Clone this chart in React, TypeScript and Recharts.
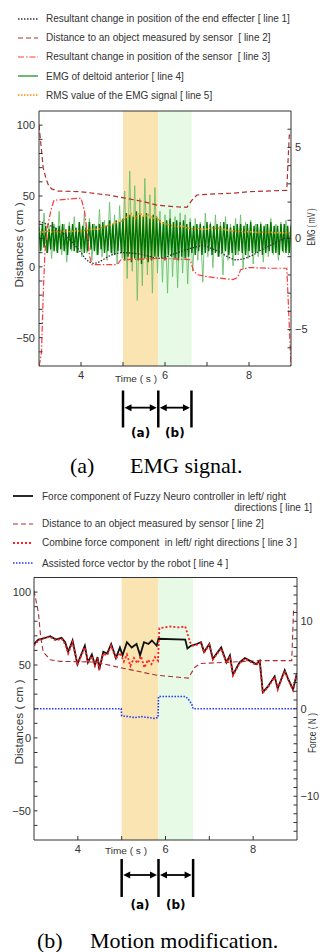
import React from "react";
import {
    ComposedChart,
    Line,
    XAxis,
    YAxis,
    CartesianGrid,
    ReferenceArea,
    ReferenceLine,
    ReferenceDot,
    Legend,
    Label
} from "recharts";

const sans = '"Liberation Sans", Arial, sans-serif';
const serif = '"Liberation Serif", "Times New Roman", serif';

// shared time axis (s)
const timeTicks = [4, 5, 6, 7, 8];
const timeLabelled = [4, 6, 8];
const phaseBounds = [5.0, 5.84, 6.63];
const phaseNames = ["(a)", "(b)"];

const cmTicks = [-60, -50, -40, -30, -20, -10, 0, 10, 20, 30, 40, 50, 60, 70, 80, 90, 100];
const cmLabelled = [-50, 0, 50, 100];
const emgTicks = [-6, -5, -4, -3, -2, -1, 0, 1, 2, 3, 4, 5, 6];
const emgLabelled = [-5, 0, 5];
const forceTicks = [-14, -13, -12, -11, -10, -9, -8, -7, -6, -5, -4, -3, -2, -1, 0, 1, 2, 3, 4, 5, 6, 7, 8, 9, 10, 11, 12, 13, 14];
const forceLabelled = [-10, 0, 10];

// ---------- (a) EMG signal ----------
const emgLegendLabels = [
    "Resultant change in position of the end effecter [ line 1]",
    "Distance to an object measured by sensor  [ line 2]",
    "Resultant change in position of the sensor  [ line 3]",
    "EMG of deltoid anterior [ line 4]",
    "RMS value of the EMG signal [ line 5]"
];

// line 1 (cm)
const effTime = [3.0, 3.2, 3.4, 3.6, 3.8, 4.0, 4.1, 4.2, 4.3, 4.4, 4.55, 4.7, 4.85, 5.0, 5.4, 5.88, 6.2, 6.5, 6.67, 6.9, 7.1, 7.3, 7.5, 7.7, 7.9, 8.1, 8.3, 8.5, 8.7, 8.9, 9.0];
const effCm = [32, 30, 27, 23, 17, 10, 6, 3.5, 2.5, 3, 5.5, 8, 9.5, 10, 9, 6, 9, 12, 13.5, 15, 13, 10.5, 7, 5, 6, 8.5, 12, 15, 18, 20.5, 20];

// line 2 (cm)
const distTime = [3.0, 3.05, 3.1, 3.16, 3.22, 3.3, 3.46, 4.0, 4.64, 5.05, 5.5, 5.8, 6.2, 6.52, 6.64, 6.76, 7.2, 7.62, 8.0, 8.4, 8.9, 8.93, 8.96, 9.0];
const distCm = [100, 85, 70, 63, 58, 55, 53.5, 53, 50.7, 48.5, 46, 43.6, 42.5, 42, 47, 50.7, 51.5, 52, 53, 53.5, 54, 75, 93, 93];

// line 3 (cm)
const sensorTime = [3.0, 3.03, 3.06, 3.1, 3.14, 3.2, 3.3, 3.36, 4.0, 4.08, 4.16, 4.2, 4.26, 4.86, 4.95, 5.5, 5.88, 6.3, 6.6, 6.67, 6.76, 7.0, 7.3, 7.62, 7.73, 7.8, 8.0, 8.5, 8.9, 8.95, 9.0];
const sensorCm = [-70, -66, -60, -20, 10, 28, 42, 47, 48.5, 40, 22, 8, 1.5, 1.5, 5, 5.5, 6, 5.5, 5, -2, -5.5, -7, -8, -9, -7.5, -2, -0.5, -1, -1, -35, -70];

// line 4 (mV), sampled every 0.04 s from 3 s
const emgCoreMv = [
    0.6, -0.7, 0.8, -0.5, 0.7, -0.8, 0.5, -0.6, 0.9, -0.7,
    0.6, -0.8, 0.7, -0.6, 0.8, -0.7, 0.5, -0.9, 0.7, -0.6,
    0.8, -0.7, 0.6, -0.8, 0.9, -0.6, 0.7, -0.8, 0.6, -0.7,
    0.9, -0.6, 0.8, -0.7, 0.7, -0.9, 0.8, -0.6, 0.9, -0.8,
    0.7, -0.7, 1.0, -0.8, 0.8, -0.9, 1.0, -0.7, 0.9, -0.8,
    1.1, -1.2, 1.4, -1.0, 1.3, -1.3, 1.2, -1.1, 1.5, -1.2,
    1.3, -1.4, 1.2, -1.1, 1.4, -1.3, 1.1, -1.2, 1.3, -1.0,
    1.2,
    -1.0, 1.0, -1.1, 0.9, -1.2, 1.0, -0.9, 1.1, -1.0, 0.9,
    -1.1, 1.0, -1.2, 0.9, -1.0, 1.0, -1.1, 0.8, -1.0, 0.9,
    -0.8, 0.7, -0.9, 0.8, -0.7, 0.8, -0.9, 0.7, -0.8, 0.9,
    -0.7, 0.8, -0.9, 0.7, -0.8, 0.8, -1.0, 0.7, -0.8, 0.9,
    -0.7, 0.8, -0.9, 0.6, -0.8, 0.7, -0.9, 0.8, -0.7, 0.8,
    -0.8, 0.7, -0.9, 0.8, -0.7, 0.9, -0.8, 0.7, -0.8, 0.8,
    -0.7, 0.8, -0.9, 0.7, -0.8, 0.8, -0.7, 0.9, -0.8, 0.7,
    -0.8, 0.7, -0.9, 0.8, -0.7, 0.8, -0.8, 0.7, -0.8, 0.7
];
// line 4 spikes (mV), sampled every 0.06 s from 3 s
const emgSpikeMv = [
    0.9, -0.6, 1.4, -0.8, 0.7, -1.1, 0.8, -0.7, 1.5, -0.9,
    0.8, -1.3, 0.9, -0.7, 1.2, -0.8, 0.9, -1.0, 1.4, -0.8,
    1.1, -1.2, 0.8, -0.9, 1.6, -1.0, 1.0, -1.2, 2.0, -0.9,
    1.3, -1.4, 1.8, -1.1,
    2.6, -2.2, 3.7, -1.8, 2.9, -3.4, 2.2, -2.6, 3.3, -2.0, 2.4, -3.0, 2.8, -1.9,
    1.5, -2.4, 1.3, -3.0, 1.6, -2.1, 1.2, -2.7, 1.4, -1.9, 1.3, -2.5, 1.1,
    -1.8, 1.1, -1.2, 0.9, -2.4, 1.4, -1.0, 0.9, -1.6, 1.3,
    -1.0, 0.9, -2.0, 1.2, -1.2, 0.8, -1.5, 1.1, -0.9, 1.3,
    -1.7, 0.9, -1.1, 1.0, -1.4, 0.8, -1.0, 0.9, -1.3, 0.8,
    -1.0, 1.1, -0.9, 0.8, -1.2, 0.9, -0.8, 1.0, -0.9, 0.8
];
// line 5 (mV), every 0.1 s from 3 s
const rmsMv = [
    0.38, 0.35, 0.4, 0.36, 0.38, 0.35, 0.4, 0.37, 0.4, 0.42,
    0.4, 0.45, 0.48, 0.52, 0.5, 0.6, 0.7, 0.75, 0.85, 0.9,
    1.0, 1.2, 1.35, 1.1, 1.4, 1.2, 1.3, 1.1, 1.15,
    0.9, 0.8, 0.75, 0.7, 0.65, 0.7, 0.6, 0.55,
    0.5, 0.55, 0.5, 0.52, 0.6, 0.55, 0.58, 0.5, 0.45, 0.42,
    0.38, 0.4, 0.35, 0.38, 0.35, 0.33, 0.36, 0.32, 0.35, 0.3, 0.33, 0.3, 0.32, 0.3
];

// ---------- (b) Motion modification ----------
const motionLegendLabels = [
    "Distance to an object measured by sensor [ line 2]",
    "Combine force component  in left/ right directions [ line 3 ]",
    "Assisted force vector by the robot [ line 4 ]"
];
const motionFirstLabel = ["Force component of Fuzzy Neuro controller in left/ right", "directions [ line 1]"];

// line 1 (N)
const fnTime = [3.0, 3.1, 3.2, 3.37, 3.5, 3.63, 3.71, 3.78, 3.88, 3.99, 4.16, 4.23, 4.32, 4.39, 4.45, 4.49, 4.58, 4.67, 4.76, 4.87, 4.96, 5.02, 5.12, 5.23, 5.34, 5.42, 5.51, 5.61, 5.69, 5.8, 5.84, 6.45, 6.5, 6.58, 6.65, 6.71, 6.81, 6.88, 7.0, 7.08, 7.27, 7.39, 7.47, 7.54, 7.69, 7.81, 7.92, 8.07, 8.15, 8.22, 8.33, 8.49, 8.56, 8.72, 8.79, 8.91, 9.0];
const fnForce = [7.4, 7.9, 8.0, 8.3, 7.9, 8.1, 7.6, 6.5, 7.8, 5.1, 7.2, 5.3, 6.2, 5.0, 5.9, 4.5, 6.5, 6.3, 7.4, 5.8, 7.0, 6.1, 7.6, 7.0, 7.4, 6.1, 7.6, 7.4, 7.8, 7.2, 8.0, 7.9, 6.9, 7.2, 7.3, 7.4, 7.6, 6.5, 7.4, 5.7, 7.0, 5.3, 6.1, 3.9, 5.3, 5.8, 5.5, 5.1, 5.5, 1.9, 2.5, 3.7, 2.3, 4.4, 3.5, 2.2, 4.1];

// line 2 (cm)
const dist2Time = [3.0, 3.1, 3.15, 3.21, 3.37, 3.6, 4.4, 5.0, 5.8, 6.52, 6.67, 6.8, 7.5, 8.15, 8.88, 8.92, 9.0];
const dist2Cm = [101, 86, 70, 59, 53.6, 52.5, 52, 48, 43, 41, 48.5, 51, 52, 53, 53, 87, 87];

// line 3 (N)
const combTime = [3.0, 3.1, 3.2, 3.37, 3.5, 3.63, 3.71, 3.78, 3.88, 3.99, 4.16, 4.23, 4.32, 4.39, 4.45, 4.49, 4.58, 4.67, 4.76, 4.87, 4.96, 5.05, 5.12, 5.2, 5.28, 5.36, 5.44, 5.52, 5.6, 5.68, 5.76, 5.83, 5.86, 6.1, 6.3, 6.45, 6.5, 6.56, 6.62, 6.71, 6.81, 6.88, 7.0, 7.08, 7.27, 7.39, 7.47, 7.54, 7.69, 7.81, 7.92, 8.07, 8.15, 8.22, 8.33, 8.49, 8.56, 8.72, 8.79, 8.91, 9.0];
const combForce = [7.2, 7.8, 8.1, 8.2, 7.8, 8.0, 7.4, 6.3, 7.6, 5.0, 7.0, 5.2, 6.0, 4.9, 5.8, 4.4, 6.3, 6.1, 7.2, 5.7, 6.4, 5.4, 6.2, 4.9, 5.8, 5.2, 6.0, 4.7, 5.6, 5.1, 5.9, 5.5, 9.2, 9.4, 9.3, 9.4, 8.6, 7.6, 7.2, 7.3, 7.5, 6.4, 7.3, 5.6, 6.9, 5.2, 6.0, 3.8, 5.2, 5.7, 5.4, 5.0, 5.4, 1.8, 2.4, 3.6, 2.2, 4.3, 3.4, 2.1, 4.0];

// line 4 (N)
const assistTime = [3.0, 4.99, 5.0, 5.15, 5.3, 5.45, 5.6, 5.75, 5.83, 5.84, 6.2, 6.45, 6.5, 6.55, 6.6, 6.63, 9.0];
const assistForce = [0, 0, -0.8, -0.9, -1.0, -0.9, -1.0, -1.1, -1.0, 1.4, 1.4, 1.4, 1.2, 0.9, 0.5, 0, 0];

const zip = (ts: number[], vs: number[]) => ts.map((t, i) => ({ t, v: vs[i] }));
const grid = (start: number, step: number, n: number) =>
    Array.from({ length: n }, (_, i) => Math.round((start + i * step) * 1000) / 1000);

const tickFmt = (labelled: number[]) => (v: number) =>
    labelled.includes(v) ? (v < 0 ? "\u2212" + Math.abs(v) : String(v)) : "";

const emgStyles = [
    { stroke: "#333", dash: "1.5 1.5", width: 1.3 },
    { stroke: "#b03030", dash: "5 3", width: 1.2 },
    { stroke: "#ff3a3a", dash: "6 2 1.5 2", width: 1.2 },
    { stroke: "#3a9a3a", dash: undefined, width: 1.4 },
    { stroke: "#ff8c00", dash: "1.5 1.5", width: 1.6 }
];
const motionStyles = [
    { stroke: "#111", dash: undefined, width: 1.8 },
    { stroke: "#a83030", dash: "5 3", width: 1.1 },
    { stroke: "#ff2020", dash: "2 2", width: 1.8 },
    { stroke: "#2233ff", dash: "1.5 1.5", width: 1.6 }
];

const axisStyle = { stroke: "#333" };
const tickStyle = { fill: "#333", fontSize: 11, fontFamily: sans };

const LegendIcon = ({ s }: any) => (
    <svg width={20} height={8} style={{ display: "block" }}>
        <line x1={0} y1={4} x2={20} y2={4} stroke={s.stroke} strokeWidth={s.width} strokeDasharray={s.dash} />
    </svg>
);

const EmgLegend = () => (
    <div style={{ fontFamily: sans, fontSize: 10, color: "#333", paddingTop: 9 }}>
        {emgLegendLabels.map((label, i) => (
            <div key={label} style={{ height: 19.2, display: "flex", alignItems: "center", paddingLeft: 18 }}>
                <LegendIcon s={emgStyles[i]} />
                <span style={{ marginLeft: 8, whiteSpace: "pre" }}>{label}</span>
            </div>
        ))}
    </div>
);

const MotionLegend = () => (
    <div style={{ fontFamily: sans, fontSize: 10, color: "#333", paddingTop: 15, width: 321 }}>
        <div style={{ display: "flex", alignItems: "center", paddingLeft: 13, height: 12 }}>
            <LegendIcon s={motionStyles[0]} />
            <span style={{ marginLeft: 9, whiteSpace: "pre" }}>{motionFirstLabel[0]}</span>
        </div>
        <div style={{ height: 12, lineHeight: "12px", textAlign: "right", paddingRight: 9, whiteSpace: "pre" }}>
            {motionFirstLabel[1]}
        </div>
        {motionLegendLabels.map((label, i) => (
            <div key={label} style={{ height: i === 2 ? 21 : 19.3, display: "flex", alignItems: "center", paddingLeft: 13 }}>
                <LegendIcon s={motionStyles[i + 1]} />
                <span style={{ marginLeft: 9, whiteSpace: "pre" }}>{label}</span>
            </div>
        ))}
    </div>
);

const vTitle = (text: string, dx: number, dy: number, fontSize: number, length: number) => (props: any) => {
    const { x, y, height } = props.viewBox;
    const cx = x + dx;
    const cy = y + height / 2 + dy;
    return (
        <text x={cx} y={cy} transform={`rotate(-90 ${cx} ${cy})`} textAnchor="middle" dominantBaseline="central"
            fontFamily={sans} fontSize={fontSize} fill="#333" textLength={length} lengthAdjust="spacingAndGlyphs">
            {text}
        </text>
    );
};

const timeTitle = (dx: number, dy: number) => (props: any) => {
    const { x, y } = props.viewBox;
    return (
        <text x={x + dx} y={y + dy} dominantBaseline="central" fontFamily={sans} fontSize={8.5} fill="#333"
            textLength={42} lengthAdjust="spacingAndGlyphs">
            Time ( s )
        </text>
    );
};

const ArrowShape = (p: any) => {
    const a = Math.min(p.x1, p.x2) + 1.5;
    const b = Math.max(p.x1, p.x2) - 1.5;
    const y = p.y1;
    const L = 7, H = 3.5;
    return (
        <g>
            <line x1={a + L - 1} y1={y} x2={b - L + 1} y2={y} stroke="#000" strokeWidth={1.8} />
            <polygon points={`${a},${y} ${a + L},${y - H} ${a + L},${y + H}`} fill="#000" />
            <polygon points={`${b},${y} ${b - L},${y - H} ${b - L},${y + H}`} fill="#000" />
        </g>
    );
};

const phaseText = (text: string) => (p: any) => (
    <text x={p.cx} y={p.cy} textAnchor="middle" fontFamily='"DejaVu Sans", sans-serif' fontWeight={700} fontSize={12} fill="#000">
        {text}
    </text>
);

// bracket rows in left-axis units: [bar top, bar bottom, arrow, label baseline]
const renderBrackets = (rows: number[]) => [
    ...phaseBounds.map((b) => (
        <ReferenceLine key={"bar" + b} yAxisId="left" ifOverflow="visible"
            segment={[{ x: b, y: rows[0] }, { x: b, y: rows[1] }]} stroke="#000" strokeWidth={2.5} />
    )),
    ...phaseNames.map((name, i) => (
        <ReferenceLine key={"arr" + name} yAxisId="left" ifOverflow="visible" shape={ArrowShape}
            segment={[{ x: phaseBounds[i], y: rows[2] }, { x: phaseBounds[i + 1], y: rows[2] }]} />
    )),
    ...phaseNames.map((name, i) => (
        <ReferenceDot key={"lbl" + name} yAxisId="left" ifOverflow="visible" r={0}
            x={(phaseBounds[i] + phaseBounds[i + 1]) / 2} y={rows[3]} shape={phaseText(name)} />
    ))
];

const phaseAreas = () => [
    <ReferenceArea key="pa" yAxisId="left" x1={phaseBounds[0]} x2={phaseBounds[1]} fill="#fae4b2" fillOpacity={1} stroke="none" />,
    <ReferenceArea key="pb" yAxisId="left" x1={phaseBounds[1]} x2={phaseBounds[2]} fill="#e6fae6" fillOpacity={1} stroke="none" />
];

const timeAxes = (dx: number, dy: number) => [
    <XAxis key="xb" type="number" dataKey="t" domain={[3, 9]} allowDataOverflow ticks={timeTicks} interval={0}
        tickFormatter={tickFmt(timeLabelled)} height={20} tickSize={-4} tickMargin={9}
        axisLine={axisStyle} tickLine={axisStyle} tick={tickStyle}>
        <Label content={timeTitle(dx, dy)} />
    </XAxis>,
    <XAxis key="xt" xAxisId="top" orientation="top" type="number" dataKey="t" domain={[3, 9]} allowDataOverflow
        ticks={timeTicks} interval={0} height={1} tickSize={-4} tick={false} axisLine={axisStyle} tickLine={axisStyle} />
];

const EmgChart = () => (
    <ComposedChart width={321} height={445} margin={{ top: 110, right: 5, bottom: 59, left: 9 }}>
        <CartesianGrid horizontal={false} vertical={false} fill="#fff" yAxisId="left" />
        {timeAxes(76, 12.6)}
        <YAxis yAxisId="left" type="number" domain={[-70, 110]} allowDataOverflow width={30} ticks={cmTicks} interval={0}
            tickFormatter={tickFmt(cmLabelled)} tickSize={-3.5} tickMargin={7.5}
            axisLine={axisStyle} tickLine={axisStyle} tick={tickStyle}>
            <Label content={vTitle("Distances ( cm )", 10, 6.4, 11.5, 85)} />
        </YAxis>
        <YAxis yAxisId="right" orientation="right" type="number" domain={[-7, 7]} allowDataOverflow width={25}
            ticks={emgTicks} interval={0} tickFormatter={tickFmt(emgLabelled)} tickSize={-3.5} tickMargin={7.5}
            axisLine={axisStyle} tickLine={axisStyle} tick={tickStyle}>
            <Label content={vTitle("EMG ( mV )", 21, -11.6, 10, 37)} />
        </YAxis>
        {phaseAreas()}
        <Line yAxisId="right" data={zip(grid(3, 0.06, emgSpikeMv.length), emgSpikeMv)} dataKey="v" dot={false}
            stroke="#6cc06c" strokeWidth={0.9} isAnimationActive={false} />
        <Line yAxisId="right" data={zip(grid(3, 0.04, emgCoreMv.length), emgCoreMv)} dataKey="v" dot={false}
            stroke="#007400" strokeWidth={1.4} isAnimationActive={false} />
        <Line yAxisId="left" data={zip(effTime, effCm)} dataKey="v" type="monotone" dot={false}
            stroke={emgStyles[0].stroke} strokeWidth={emgStyles[0].width} strokeDasharray={emgStyles[0].dash} isAnimationActive={false} />
        <Line yAxisId="left" data={zip(distTime, distCm)} dataKey="v" dot={false}
            stroke={emgStyles[1].stroke} strokeWidth={emgStyles[1].width} strokeDasharray={emgStyles[1].dash} isAnimationActive={false} />
        <Line yAxisId="left" data={zip(sensorTime, sensorCm)} dataKey="v" dot={false}
            stroke={emgStyles[2].stroke} strokeWidth={emgStyles[2].width} strokeDasharray={emgStyles[2].dash} isAnimationActive={false} />
        <Line yAxisId="right" data={zip(grid(3, 0.1, rmsMv.length), rmsMv)} dataKey="v" dot={false}
            stroke={emgStyles[4].stroke} strokeWidth={emgStyles[4].width} strokeDasharray={emgStyles[4].dash} isAnimationActive={false} />
        {renderBrackets([-87.3, -113.4, -99.4, -119.8])}
        <Legend content={EmgLegend} layout="vertical" align="center" verticalAlign="middle"
            wrapperStyle={{ top: 0, left: 0, width: 321 }} />
    </ComposedChart>
);

const MotionChart = () => (
    <ComposedChart width={321} height={440} margin={{ top: 101.5, right: 4, bottom: 55, left: 4 }}>
        <CartesianGrid horizontal={false} vertical={false} fill="#fff" yAxisId="left" />
        {timeAxes(71, 10.7)}
        <YAxis yAxisId="left" type="number" domain={[-70, 110]} allowDataOverflow width={30} ticks={cmTicks} interval={0}
            tickFormatter={tickFmt(cmLabelled)} tickSize={-3.5} tickMargin={6.5}
            axisLine={axisStyle} tickLine={axisStyle} tick={tickStyle}>
            <Label content={vTitle("Distances ( cm )", 15, 13.3, 11.5, 85)} />
        </YAxis>
        <YAxis yAxisId="right" orientation="right" type="number" domain={[-15, 15]} allowDataOverflow width={20}
            ticks={forceTicks} interval={0} tickFormatter={tickFmt(forceLabelled)} tickSize={-3.5} tickMargin={7}
            axisLine={axisStyle} tickLine={axisStyle} tick={tickStyle}>
            <Label content={vTitle("Force ( N )", 16, 24.3, 10, 40)} />
        </YAxis>
        {phaseAreas()}
        <Line yAxisId="left" data={zip(dist2Time, dist2Cm)} dataKey="v" dot={false}
            stroke={motionStyles[1].stroke} strokeWidth={motionStyles[1].width} strokeDasharray={motionStyles[1].dash} isAnimationActive={false} />
        <Line yAxisId="right" data={zip(assistTime, assistForce)} dataKey="v" dot={false}
            stroke={motionStyles[3].stroke} strokeWidth={motionStyles[3].width} strokeDasharray={motionStyles[3].dash} isAnimationActive={false} />
        <Line yAxisId="right" data={zip(fnTime, fnForce)} dataKey="v" dot={false}
            stroke={motionStyles[0].stroke} strokeWidth={motionStyles[0].width} isAnimationActive={false} />
        <Line yAxisId="right" data={zip(combTime, combForce)} dataKey="v" dot={false}
            stroke={motionStyles[2].stroke} strokeWidth={motionStyles[2].width} strokeDasharray={motionStyles[2].dash} isAnimationActive={false} />
        {renderBrackets([-83, -109.1, -94, -117.3])}
        <Legend content={MotionLegend} layout="vertical" align="center" verticalAlign="middle"
            wrapperStyle={{ top: 0, left: 0, width: 321 }} />
    </ComposedChart>
);

const captionStyle: React.CSSProperties = {
    position: "absolute", fontFamily: serif, fontSize: 22, lineHeight: "22px", whiteSpace: "pre", color: "#000"
};

export default function App() {
    return (
        <div style={{ position: "relative", width: 321, height: 952, background: "#fff", overflow: "hidden" }}>
            <style>{"body{margin:0}"}</style>
            <div style={{ position: "absolute", left: 0, top: 0 }}>
                <EmgChart />
            </div>
            <div style={captionStyle as any} >
                <span style={{ position: "absolute", left: 70, top: 454.6 }}>(a)</span>
                <span style={{ position: "absolute", left: 130, top: 454.6 }}>EMG signal.</span>
            </div>
            <div style={{ position: "absolute", left: 0, top: 475 }}>
                <MotionChart />
            </div>
            <div style={captionStyle as any}>
                <span style={{ position: "absolute", left: 37, top: 929.6 }}>(b)</span>
                <span style={{ position: "absolute", left: 90, top: 929.6 }}>Motion modification.</span>
            </div>
        </div>
    );
}
